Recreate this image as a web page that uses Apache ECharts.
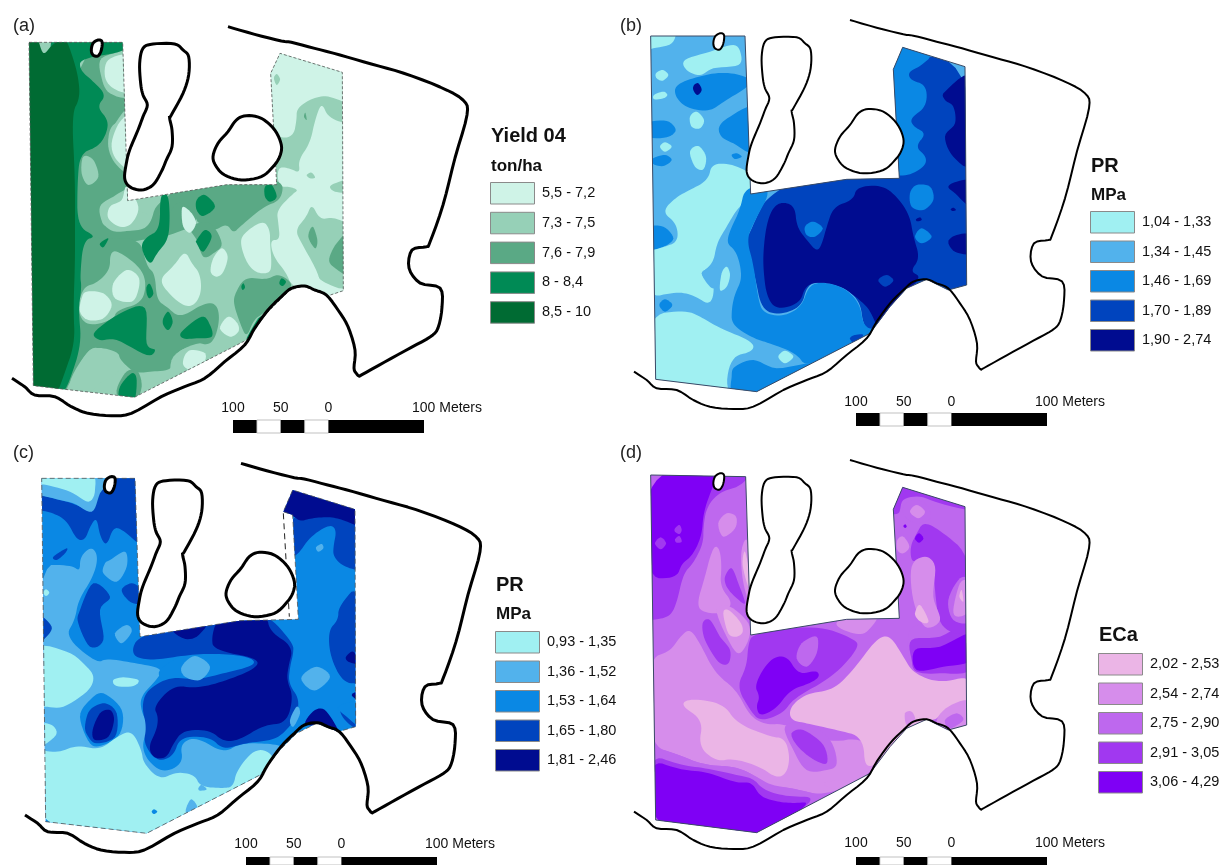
<!DOCTYPE html>
<html><head><meta charset="utf-8">
<style>html,body{margin:0;padding:0;background:#fff}#c{width:1224px;height:865px}</style>
<script src="https://cdn.jsdelivr.net/npm/echarts@6/dist/echarts.min.js"></script>
</head><body><div id="c"></div>
<script>
// ---- class colours
const greens=['#CFF3E7','#96D0B7','#5AA985','#008A55','#006B33'];
const blues=['#A0F0F2','#52B2EC','#0A88E4','#0044BE','#000C90'];
const purples=['#EBB5E6','#D68DEB','#BE68EE','#A138F0','#7F00F5'];
// ---- legend values
const classesA=['5,5 - 7,2','7,3 - 7,5','7,6 - 7,9','8 - 8,4','8,5 - 10'];
const classesB=['1,04 - 1,33','1,34 - 1,45','1,46 - 1,69','1,70 - 1,89','1,90 - 2,74'];
const classesC=['0,93 - 1,35','1,36 - 1,52','1,53 - 1,64','1,65 - 1,80','1,81 - 2,46'];
const classesD=['2,02 - 2,53','2,54 - 2,74','2,75 - 2,90','2,91 - 3,05','3,06 - 4,29'];
const scaleEdges=[-100,-75,-50,-25,0,100];
const scaleTicks=[-100,-50,0,100];
// ---- site outline (map units)
const outerLine=[690,30,770,53,850,73,880,77,950,95,1026,115,1120,142,1215,169,1326,211,1395,250,1407,295,1371,424,1335,565,1296,676,1285,690,1242,700,1233,754,1266,799,1326,814,1332,871,1320,934,1296,961,1240,992,1160,1036,1092,1074,1083,1078,1075,1070,1068,1054,1071,1000,1050,930,1020,880,985,835,950,820,920,808,880,815,850,840,810,880,770,935,740,985,680,1035,620,1085,560,1110,490,1140,400,1190,340,1197,270,1190,220,1170,170,1140,110,1135,80,1110,42,1085];
const pond1=[435,95,465,82,530,82,555,100,572,120,572,175,555,230,520,295,515,305,522,340,522,390,505,430,490,465,465,505,430,520,395,510,380,485,385,440,395,400,420,340,435,300,448,265,435,235,428,200,425,140];
const pond2=[645,420,660,380,690,345,715,310,745,297,790,305,830,340,850,385,845,420,825,450,790,480,730,490,680,475,655,450];
const islet=[280,100,285,80,300,70,312,75,310,100,300,118,285,115];
// ---- field boundaries
const fieldA=[87,97,368,97,383,572,680,524,830,524,812,190,840,130,1027,187,1030,842,985,857,910,828,870,840,800,910,740,990,403,1162,100,1127];
const fieldB=[92,78,375,78,392,552,680,508,838,505,820,178,848,112,1035,170,1040,825,985,840,920,808,860,835,810,890,750,970,410,1145,107,1108];
const fieldC=[95,85,375,85,390,560,690,512,865,508,848,195,820,185,848,120,1035,178,1037,830,985,845,920,820,860,850,810,900,750,975,410,1150,107,1115];
const fieldD=[92,75,377,80,392,555,680,508,838,505,820,178,848,112,1035,170,1040,825,985,840,920,808,860,835,810,890,750,970,410,1148,107,1110];
const dashC=[820,190,838,500];
// ---- contour polygons [class, flat points], painted in order
const zonesA=[
[1,[0,0,1100,0,1100,1200,0,1200]],
[0,[780,100,1060,150,1060,290,985,255,935,265,890,295,890,330,880,380,835,385,820,340,780,200]],
[0,[965,275,985,325,1055,345,1055,690,1000,720,985,760,955,790,960,815,1055,830,1055,875,985,880,875,830,860,790,820,740,810,690,840,690,835,640,830,600,880,550,895,540,870,530,835,530,832,470,870,475,900,490,895,450,930,400,945,330]],
[1,[935,580,960,630,1000,620,1060,650,1060,850,960,815,950,780,905,700,885,660,920,620]],
[2,[925,680,938,650,952,690,945,715]],[2,[988,745,1010,700,1050,670,1050,790,1000,770]],
[1,[822,205,830,192,840,208,830,225]],[2,[912,320,916,308,920,330]],
[1,[920,495,935,488,945,503,930,505]],[1,[990,530,1010,518,1045,510,1045,545,1005,545]],
[2,[215,120,385,120,390,320,340,340,325,370,325,420,360,470,390,470,395,590,320,585,300,630,320,655,400,665,450,650,470,570,600,530,600,640,500,680,420,690,380,700,215,700]],
[2,[490,545,690,505,850,505,845,570,790,590,720,650,700,670,680,640,640,665,620,640,590,640,590,610,540,570,510,600,500,660,490,630]],
[2,[215,640,280,690,420,680,440,770,465,790,470,870,500,890,540,925,610,880,650,880,660,930,640,1000,600,1005,530,1020,520,1080,450,1085,405,1090,360,1050,355,1025,290,1010,260,1025,210,1115,190,1160,140,1150]],
[2,[705,850,735,800,800,810,835,790,880,820,860,850,790,910,760,930,740,985,720,940,700,880]],
[2,[350,1150,375,1090,410,1080,425,1130,400,1180]],
[2,[590,690,570,650,630,640,665,700,640,730,610,740]],
[1,[250,440,280,450,295,500,265,525,245,490]],
[1,[305,145,385,135,390,255,330,250,305,205]],
[1,[395,295,340,350,325,410,350,465,395,480]],
[1,[300,590,340,560,385,540,400,590,450,620,430,650,350,665,310,640]],
[1,[350,720,420,770,440,820,425,880,350,900,340,930,260,950,230,900,250,830,290,820,330,780,330,730]],
[1,[520,1040,600,1000,640,1040,590,1090,520,1110]],
[1,[210,1120,260,1030,300,1015,360,1050,350,1090,300,1120,260,1150]],
[3,[180,80,385,80,385,125,240,145,240,180,275,210,320,255,290,290,325,330,320,370,295,410,240,430,232,520,232,650,290,680,250,690,240,800,245,830,235,900,245,1000,210,1110,190,1150,140,1140,140,80]],
[4,[60,80,112,80,125,125,135,132,155,105,195,80,215,130,235,200,240,265,215,310,225,500,225,650,225,760,220,900,225,1000,190,1100,170,1155,60,1155]],
[3,[480,550,505,550,510,620,505,690,470,730,450,770,420,710,440,680,480,660]],
[3,[590,570,615,555,645,590,610,618,590,600]],[3,[590,690,615,660,635,680,610,725,590,700]],
[3,[795,530,815,525,830,560,810,575,795,560]],[3,[440,830,450,822,460,850,448,865,440,850]],
[3,[285,965,370,905,435,895,440,1000,465,1020,440,1035,350,990,300,990]],
[3,[490,925,505,905,518,935,505,960,490,945]],[3,[545,965,605,920,630,945,635,980,590,985,550,985]],
[3,[360,1130,395,1090,410,1110,400,1180,360,1170]],[3,[740,985,775,925,790,925,760,970]],
[3,[300,700,325,685,310,712]],[3,[838,820,845,805,858,815,848,828]],[3,[724,830,730,820,735,832,728,840]],
[0,[720,700,730,670,790,630,810,660,810,700,815,760,810,790,770,790,740,760]],
[0,[665,715,683,740,670,785,650,800,632,785,640,745]],
[0,[550,590,575,610,588,640,570,668,550,650,545,610]],
[0,[555,720,575,760,600,790,605,845,585,885,555,890,515,860,475,810,520,770]],
[0,[380,780,415,800,415,840,395,875,345,865,340,820]],
[0,[260,845,310,850,335,885,310,925,265,930,240,905,245,865]],
[0,[685,920,712,940,715,965,690,980,660,955]],
[0,[575,1020,615,1030,610,1060,575,1080,550,1065,555,1035]],
[0,[325,150,385,140,385,240,340,235,315,200]],
[0,[360,335,395,325,395,470,350,450,335,400]],
[0,[380,530,415,590,395,640,360,650,325,625,330,590,365,570]]
];
const zonesB=[
[1,[0,0,1100,0,1100,1200,0,1200]],
[0,[70,60,160,60,155,100,100,115,70,120]],
[0,[195,150,270,125,340,105,362,130,355,165,280,175,240,195,200,180]],
[0,[108,190,128,180,145,195,128,212,110,205]],[0,[102,255,130,245,142,255,130,265,103,268]],
[0,[210,320,230,305,252,330,240,355,215,350]],[0,[120,410,135,397,155,410,135,425]],
[0,[210,425,235,408,258,440,250,478,225,470]],
[2,[165,225,230,200,310,185,385,200,395,225,310,275,270,305,200,295,165,260]],
[4,[222,225,235,220,245,240,232,255,220,240]],
[2,[80,340,140,333,167,360,140,382,80,380]],
[2,[298,350,330,320,400,295,405,425,340,400,305,380]],
[2,[100,445,135,435,155,450,130,468,100,462]],[2,[335,435,350,430,365,440,345,447]],
[2,[80,655,130,650,160,685,130,710,80,718]],
[0,[80,725,130,712,175,695,170,640,125,605,170,560,210,540,265,510,275,460,340,462,410,500,410,550,355,590,320,650,290,700,280,760,240,790,285,810,275,890,220,855,170,845,80,865]],
[1,[245,790,270,775,300,780,290,830,270,830]],
[0,[305,790,320,770,330,795,320,830,300,840]],
[0,[80,915,200,900,250,925,300,955,400,995,400,1025,330,1040,315,1160,420,1175,80,1145]],
[2,[118,885,135,868,157,885,135,905]],
[3,[345,700,380,690,410,620,440,560,600,470,860,470,800,140,1070,140,1070,860,985,860,920,808,860,835,810,890,760,975,730,950,720,870,660,825,590,815,560,830,545,890,480,915,425,900,405,800,385,720]],
[2,[845,95,945,130,900,170,865,185,870,210,920,225,920,290,870,325,880,350,920,370,885,410,920,440,915,470,860,500,800,490,790,178]],
[2,[375,530,460,530,400,640,380,690,400,760,415,870,430,910,490,920,545,890,565,830,600,815,670,830,720,880,730,950,770,960,745,1000,560,1075,530,1030,450,1000,400,985,335,945,335,895,345,850,365,810,360,760,345,720,320,700,330,660,360,600]],
[2,[345,1070,400,1050,470,1075,575,1065,420,1175,340,1155,335,1100]],
[0,[475,1040,495,1022,520,1040,495,1060]],
[4,[430,720,440,640,460,590,490,575,525,590,530,650,560,690,590,725,605,705,620,650,640,590,700,570,710,530,790,525,840,570,870,620,880,680,900,745,870,785,905,800,860,845,810,900,775,960,750,900,720,870,660,825,590,815,555,830,540,880,470,900,440,860,430,780]],
[3,[775,810,800,795,820,812,795,830]],[2,[555,650,580,635,608,655,585,680,560,675]],
[3,[690,985,705,975,730,975,705,1000]],
[2,[870,550,890,525,930,530,940,570,910,600,875,590]],[2,[885,680,905,655,935,680,905,700]],
[4,[975,245,1055,205,1055,455,1000,440,975,380,1005,340,1000,290,975,270]],
[4,[985,530,1010,515,1055,515,1055,590,1005,550]],[4,[985,695,1010,675,1055,675,1055,730,1005,725]],
[4,[888,628,900,622,905,630,892,634]],[4,[992,598,1000,593,1008,600,998,603]]
];
const zonesC=[
[2,[0,0,1100,0,1100,1200,0,1200]],
[3,[75,130,130,145,190,160,240,185,260,150,290,65,395,65,405,300,340,240,310,230,290,290,270,260,260,200,240,230,225,270,200,270,170,210,120,185,75,180]],
[1,[75,65,300,65,270,130,245,185,190,160,130,145,75,125]],
[0,[75,65,235,65,255,120,235,155,180,125,110,105,75,100]],
[3,[130,320,170,295,165,310,140,330]],
[1,[75,345,185,345,210,365,210,320,245,288,265,320,250,380,205,450,195,510,165,560,260,640,290,625,380,640,460,655,440,690,390,740,395,790,420,830,395,880,410,930,460,970,520,940,510,880,560,860,640,910,690,880,770,880,830,890,770,995,410,1180,75,1140]],
[3,[80,495,125,530,105,565,80,580]],
[0,[100,428,108,418,118,428,108,438]],
[1,[300,330,345,305,350,350,320,395,280,370,285,340]],
[3,[210,480,250,400,300,440,270,480,280,570,240,590,205,520]],
[3,[335,420,365,400,395,420,395,460,360,455]],
[1,[315,550,350,525,365,545,335,580]],
[2,[450,660,540,610,650,620,745,650,640,695,540,710,470,700]],
[3,[365,600,385,560,490,535,600,515,690,495,770,490,850,580,850,610,840,650,835,700,870,750,855,810,820,850,790,870,700,880,640,900,600,860,510,860,490,920,440,935,400,880,410,830,395,770,410,720,480,680,560,690,640,670,740,645,720,620,620,610,530,615,440,630,380,625]],
[1,[515,650,555,618,600,650,570,690,525,680]],
[4,[430,770,490,705,560,715,640,695,740,655,745,625,610,600,605,560,620,510,690,490,770,495,780,545,850,590,835,650,830,690,850,740,830,820,760,825,690,870,640,875,600,840,520,840,490,880,470,925,430,925,415,890,440,840,445,800]],
[4,[490,535,590,515,560,560,520,565]],
[0,[75,600,170,605,230,650,250,685,230,725,160,770,105,770,75,770]],
[0,[310,690,340,682,385,690,370,708,320,708]],
[2,[210,800,240,750,280,730,335,780,330,850,280,885,240,880]],
[3,[225,830,240,780,285,760,320,790,315,860,260,880,235,860]],
[4,[248,840,270,790,300,780,312,810,295,860,255,870]],
[0,[75,895,140,910,200,885,270,900,320,860,365,840,395,900,400,940,450,990,500,965,555,975,570,1010,640,1015,670,1010,680,960,740,890,800,920,770,995,410,1180,75,1140]],
[0,[85,825,125,825,138,855,85,890]],
[1,[530,1070,545,1048,562,1075,530,1090]],[2,[425,1085,432,1078,442,1085,432,1092]],[1,[565,1015,575,1005,590,1018,570,1022]],
[3,[840,175,1060,175,1060,365,1000,350,970,320,970,290,980,240,960,222,900,260,860,320,830,320]],
[4,[840,90,1060,150,1060,235,1000,210,960,200,900,205,870,215,848,195,790,190]],
[1,[918,292,935,282,940,295,925,305]],
[3,[985,470,1055,390,1055,850,1000,810,985,770,1055,760,1055,700,1000,700,960,620,955,540,985,510]],
[2,[985,770,1055,755,1055,830,1010,800]],
[4,[1008,620,1030,605,1045,640,1015,635]],[4,[1025,735,1045,725,1045,750]],
[1,[875,680,920,650,960,680,920,720,890,710]],
[4,[885,820,915,780,950,785,990,860,920,830]],
[1,[840,810,860,770,870,790,850,830]]
];
const zonesD=[
[2,[0,0,1100,0,1100,1200,0,1200]],
[3,[75,60,400,65,360,110,300,125,260,170,250,230,250,280,220,340,190,370,170,460,150,500,100,510,75,510]],
[4,[75,60,300,60,270,130,250,190,245,260,215,320,185,340,170,385,75,385]],
[3,[105,280,122,262,138,280,122,298]],[3,[165,235,178,225,185,240,178,252,165,245]],[3,[165,268,178,258,185,275,170,278]],
[1,[295,220,320,190,348,200,345,235,310,260]],
[1,[228,470,255,380,270,320,285,285,300,300,305,350,300,410,340,460,310,490,260,490]],
[1,[365,300,380,270,395,340,395,470,375,420,365,360]],[0,[368,345,375,305,390,380,385,410]],
[3,[315,380,335,355,355,400,375,460,345,440,320,410]],
[1,[290,480,330,470,385,520,385,570,355,610,320,560]],[0,[310,490,325,480,360,515,368,545,350,560,325,550]],
[3,[248,520,270,510,300,560,330,600,325,640,295,635,255,570]],
[1,[85,625,150,605,180,560,210,535,240,580,285,670,350,720,390,800,440,825,495,820,620,880,735,860,780,960,620,1040,520,1015,450,1005,410,980,350,950,250,945,180,915,85,885]],
[2,[85,885,180,915,250,945,350,950,410,980,450,1010,520,1015,620,1040,520,1120,85,1130]],
[3,[85,910,180,945,260,955,350,975,400,985,430,1020,500,1040,595,1040,500,1110,300,1160,85,1130]],
[4,[85,925,180,960,260,965,350,1000,395,995,420,1040,470,1055,520,1060,580,1055,410,1175,85,1140]],
[0,[180,765,210,745,310,760,350,820,450,860,495,865,510,920,500,970,470,985,420,950,340,925,290,935,235,890,250,810]],
[2,[495,830,560,820,630,870,650,940,620,960,560,960,520,900]],
[3,[515,850,550,840,610,885,620,940,575,925,530,885]],
[1,[612,1000,660,990,700,1000,640,1015]],
[3,[385,580,400,550,590,525,700,565,720,590,640,680,520,745,490,790,420,815,390,780,350,710,380,650]],
[2,[530,625,545,580,590,560,590,610,560,650]],
[1,[650,525,680,495,770,495,740,545,700,550]],
[4,[402,705,450,625,500,615,535,675,590,660,600,680,570,700,510,720,470,775,420,800,408,770,420,740]],
[2,[870,540,960,520,1055,495,1055,685,960,700,880,670]],
[3,[875,570,960,560,1055,520,1055,655,960,670,890,665,875,630]],
[4,[885,600,960,590,1055,550,1055,630,970,650,890,660]],
[0,[510,770,560,730,640,720,700,660,770,565,810,555,850,620,880,670,960,700,1055,675,1055,760,980,770,950,810,920,808,860,845,800,915,735,965,730,860,650,840,560,820,510,810]],
[1,[855,790,875,785,885,810,860,825]],[1,[950,815,985,770,1050,755,1050,845,985,860]],[2,[975,810,1010,790,1030,810,990,835]],
[3,[830,95,1055,150,1055,180,960,160,900,140,850,150,835,190,800,178]],
[3,[910,215,960,240,1055,320,1055,560,960,540,945,430,940,340,900,320,875,340,870,290,890,250]],
[2,[985,450,1020,385,1050,400,1050,510,1000,510]],[1,[1000,480,1020,400,1045,400,1045,480,1015,500]],[0,[1018,440,1025,420,1030,455]],
[2,[850,170,880,150,920,165,930,205,890,220,855,200]],[1,[870,185,890,165,915,185,895,205]],
[4,[885,265,897,250,910,265,897,278]],[4,[850,228,856,223,860,230,855,234]],
[1,[832,270,850,260,868,290,850,310,832,300]],
[1,[875,350,915,320,945,350,940,440,960,510,915,530,880,450]],[0,[885,490,900,465,925,510,915,520,895,510]]
];
// ---- panel setup
const pair=a=>{const o=[];for(let i=0;i<a.length;i+=2)o.push([a[i],a[i+1]]);return o;};
function rounded(pts,closed,n){
  const out=[],m=pts.length;
  const at=i=>closed?pts[(i+m)%m]:pts[Math.max(0,Math.min(m-1,i))];
  const last=closed?m:m-1;
  for(let i=0;i<last;i++){
    const p0=at(i-1),p1=at(i),p2=at(i+1),p3=at(i+2);
    for(let k=0;k<n;k++){
      const t=k/n,t2=t*t,t3=t2*t;
      out.push([0,1].map(d=>.5*((2*p1[d])+(-p0[d]+p2[d])*t+(2*p0[d]-5*p1[d]+4*p2[d]-p3[d])*t2+(-p0[d]+3*p1[d]-3*p2[d]+p3[d])*t3)));
    }
  }
  if(!closed)out.push(pts[m-1]);
  return out;
}
function corner(pts,it){
  let cur=pts;
  for(let j=0;j<it;j++){
    const o=[];
    cur.forEach((a,i)=>{const b=cur[(i+1)%cur.length];
      o.push([.75*a[0]+.25*b[0],.75*a[1]+.25*b[1]],[.25*a[0]+.75*b[0],.25*a[1]+.75*b[1]]);});
    cur=o;
  }
  return cur;
}
const panels=[
 {z:zonesA,f:fieldA,c:greens,l:classesA,box:[0,10],off:[-6,20],lw:3,dash:[3,2],scale:[233,420,408],name:'(a)',nameAt:[13,26],leg:[490,182,'Yield 04',136,'ton/ha',166,29.8]},
 {z:zonesB,f:fieldB,c:blues,l:classesB,box:[620,10],off:[0,0],lw:2,dash:null,scale:[856,413,402],name:'(b)',nameAt:[620,26],leg:[1090,211,'PR',166,'MPa',195,29.5]},
 {z:zonesC,f:fieldC,c:blues,l:classesC,box:[10,450],off:[3,10],lw:3,dash:[5,3],scale:[246,857,844],name:'(c)',nameAt:[13,453],leg:[495,631,'PR',585,'MPa',614,29.5],extra:dashC},
 {z:zonesD,f:fieldD,c:purples,l:classesD,box:[620,450],off:[0,0],lw:2,dash:null,scale:[856,857,843],name:'(d)',nameAt:[620,453],leg:[1098,653,'ECa',635,null,0,29.5]}
];
const grids=[],xAxes=[],yAxes=[],series=[],graphic=[];
const FONT='"Liberation Sans",Arial,sans-serif';
panels.forEach((p,idx)=>{
  const gi=grids.length;
  const w=500,h=idx>1?415:430;
  grids.push({left:p.box[0],top:p.box[1],width:w,height:h,show:false});
  xAxes.push({type:'value',gridIndex:gi,min:0,max:w*3,show:false});
  yAxes.push({type:'value',gridIndex:gi,min:0,max:h*3,inverse:true,show:false});
  // contour zones
  series.push({type:'custom',xAxisIndex:gi,yAxisIndex:gi,clip:false,silent:true,z:2,animation:false,
    data:p.z.map((_,i)=>[i,p.z[i][0]]),
    renderItem(params,api){
      const q=p.z[params.dataIndex];
      const clip=pair(p.f).map(pt=>api.coord(pt));
      const pts=pair(q[1]).map(pt=>api.coord(pt));
      const n=pts.length;
      const shape=params.dataIndex===0?pts:(n>8?corner(pts,3):rounded(pts,true,6));
      return {type:'polygon',silent:true,shape:{points:shape},
        style:{fill:p.c[q[0]],stroke:null},
        clipPath:{type:'polygon',shape:{points:clip}}};
    }});
  // field edge
  series.push({type:'custom',xAxisIndex:gi,yAxisIndex:gi,clip:false,silent:true,z:3,animation:false,data:[[0,0]],
    renderItem(params,api){
      const pts=pair(p.f).map(pt=>api.coord(pt));
      const kids=[{type:'polygon',silent:true,shape:{points:pts},style:{fill:'none',stroke:p.dash?'#555':'#3a4a66',lineWidth:p.dash?.8:1,lineDash:p.dash||undefined}}];
      if(p.extra)kids.push({type:'polyline',silent:true,shape:{points:pair(p.extra).map(pt=>api.coord(pt))},style:{fill:'none',stroke:'#222',lineWidth:1,lineDash:[6,4]}});
      return {type:'group',children:kids};
    }});
  // ponds, islet, outer line
  const shift=a=>pair(a).map(v=>[v[0]+p.off[0],v[1]+p.off[1]]);
  series.push({type:'custom',xAxisIndex:gi,yAxisIndex:gi,clip:false,silent:true,z:4,animation:false,data:[[0,0],[1,0],[2,0]],
    renderItem(params,api){
      const s=[pond1,pond2,islet][params.dataIndex];
      return {type:'polygon',silent:true,shape:{points:rounded(shift(s).map(pt=>api.coord(pt)),true,5)},style:{fill:'#fff',stroke:'#000',lineWidth:p.lw}};
    }});
  series.push({type:'custom',xAxisIndex:gi,yAxisIndex:gi,clip:false,silent:true,z:5,animation:false,data:[[0,0]],
    renderItem(params,api){
      return {type:'polyline',silent:true,shape:{points:rounded(shift(outerLine).map(pt=>api.coord(pt)),false,4)},style:{fill:'none',stroke:'#000',lineWidth:p.lw,lineJoin:'round'}};
    }});
  // scale bar with its own metre axis
  const si=grids.length;
  grids.push({left:p.scale[0],top:p.scale[1],width:191,height:13,show:false});
  xAxes.push({type:'value',gridIndex:si,min:-100,max:100,show:false});
  yAxes.push({type:'value',gridIndex:si,min:0,max:1,show:false});
  series.push({type:'custom',xAxisIndex:si,yAxisIndex:si,clip:false,silent:true,z:6,animation:false,
    data:scaleEdges.slice(0,-1).map((e,i)=>[e,scaleEdges[i+1],i]),
    renderItem(params,api){
      const a=api.coord([api.value(0),1]),b=api.coord([api.value(1),0]);
      const odd=api.value(2)%2;
      return {type:'rect',silent:true,shape:{x:a[0],y:a[1],width:b[0]-a[0],height:b[1]-a[1]},style:{fill:odd?'#fff':'#000',stroke:odd?'#999':'#000',lineWidth:odd?.6:0}};
    }});
  series.push({type:'custom',xAxisIndex:si,yAxisIndex:si,clip:false,silent:true,z:6,animation:false,
    data:scaleTicks.map(t=>[t]),
    renderItem(params,api){
      const v=api.value(0),a=api.coord([v,1]);
      const last=v===100;
      return {type:'text',silent:true,style:{x:last?a[0]-12:a[0],y:p.scale[2],text:last?'100 Meters':String(Math.abs(v)),
        font:'14px '+FONT,fill:'#111',align:last?'left':'center',verticalAlign:'middle'}};
    }});
  // panel tag
  graphic.push({type:'text',silent:true,style:{x:p.nameAt[0],y:p.nameAt[1],text:p.name,font:'18px '+FONT,fill:'#222',verticalAlign:'middle'}});
  // legend
  const L=p.leg;
  graphic.push({type:'text',silent:true,style:{x:L[0]+1,y:L[3],text:L[2],font:'bold 20px '+FONT,fill:'#111',verticalAlign:'middle'}});
  if(L[4])graphic.push({type:'text',silent:true,style:{x:L[0]+1,y:L[5],text:L[4],font:'bold 17px '+FONT,fill:'#111',verticalAlign:'middle'}});
  p.l.forEach((t,i)=>{
    const y=L[1]+i*L[6];
    graphic.push({type:'rect',silent:true,shape:{x:L[0]+.5,y:y+.5,width:44,height:21.5},style:{fill:p.c[i],stroke:'#8a8a8a',lineWidth:1}});
    graphic.push({type:'text',silent:true,style:{x:L[0]+52,y:y+11,text:t,font:'14.5px '+FONT,fill:'#111',verticalAlign:'middle'}});
  });
});
const chart=echarts.init(document.getElementById('c'),null,{renderer:'canvas'});
chart.setOption({animation:false,backgroundColor:'#fff',grid:grids,xAxis:xAxes,yAxis:yAxes,series,graphic:{elements:graphic}});
</script></body></html>
